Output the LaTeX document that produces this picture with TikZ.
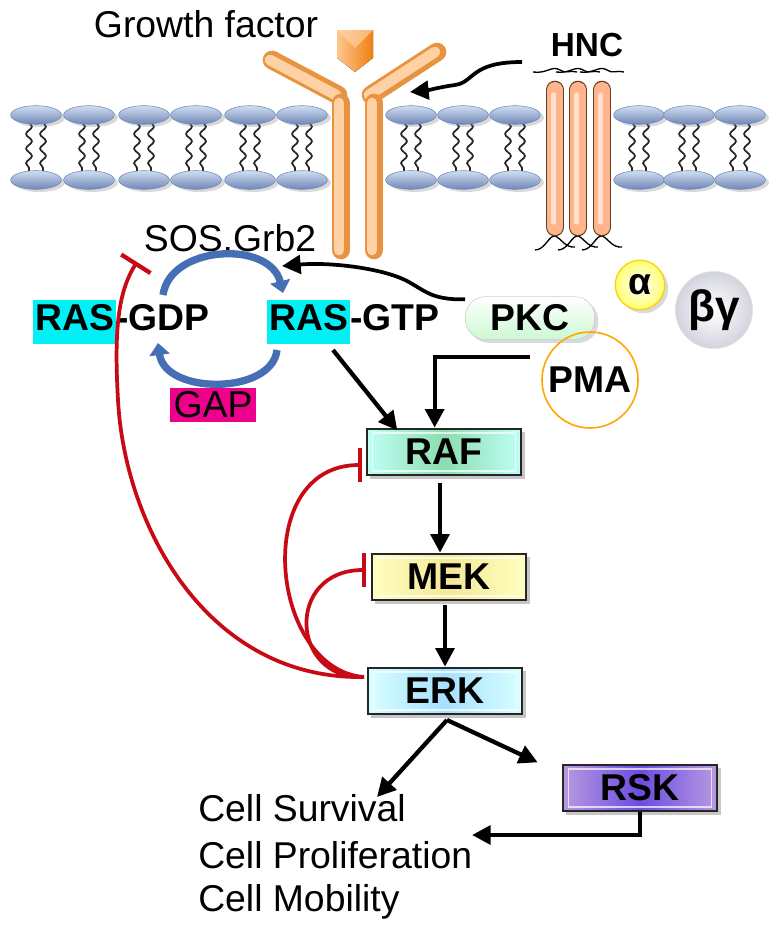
\documentclass[tikz,border=0pt]{standalone}
\usepackage{fontspec}
\setmainfont{Liberation Sans}
\usetikzlibrary{arrows.meta,decorations.pathmorphing,shadows,shapes.geometric}
\definecolor{cycblue}{RGB}{70,110,180}
\definecolor{rascyan}{RGB}{0,240,245}
\definecolor{inhred}{RGB}{200,10,20}
\definecolor{lipA}{RGB}{210,222,240}
\definecolor{lipB}{RGB}{110,135,185}
\begin{document}
\begin{tikzpicture}[x=0.75pt,y=-0.75pt,
 head/.style={ellipse,inner sep=0,draw=lipB,top color=lipA,bottom color=lipB,minimum width=38pt,minimum height=14pt,drop shadow={opacity=0.3,shadow yshift=-2pt}},
 tail/.style={draw=black!85,line width=1.3pt,decorate,decoration={snake,amplitude=2.2pt,segment length=11pt}},
 kin/.style={draw=black!85,line width=1.5pt,minimum width=116pt,minimum height=35pt,font=\bfseries\fontsize{28}{30}\selectfont,drop shadow={opacity=0.45}},
 inner/.style={draw=white,opacity=0.7,line width=1.2pt},
 tip/.style={-{Triangle[length=14pt,width=14pt]}},
 arr/.style={line width=3.2pt,tip},
 inh/.style={draw=inhred,line width=2.8pt,-{Bar[width=26pt,line width=3.2pt]}},
 lbl/.style={font=\bfseries\fontsize{28}{30}\selectfont,inner sep=1pt},
 txt/.style={font=\fontsize{28}{30}\selectfont,anchor=west,inner sep=0}]
\useasboundingbox (0,0) rectangle (777,935);
% membrane
\foreach \i/\x in {1/36,2/89,3/144,4/196,5/250,6/302,7/411,8/463,9/515,10/639,11/689,12/740}{
  \draw[tail] (\x-7,122) -- (\x-7,172);
  \draw[tail] (\x+7,122) -- (\x+7,172);
  \node[head] (ht\i) at (\x,115) {};
  \node[head] (hb\i) at (\x,180) {};
}
% receptor
\tikzset{recA/.style={line width=14pt,line cap=round,draw=orange!55!brown!85},
         recB/.style={line width=8pt,line cap=round,draw=orange!35!white}}
\foreach \a/\b in {{(272,60)}/{(338,95)},{(437,52)}/{(371,95)},{(341,103)}/{(341,250)},{(374,103)}/{(374,250)}}{
  \draw[recA] \a -- \b;
  \draw[recB,xshift=-1.5pt] \a -- \b;
}
\node[draw=none,minimum size=1pt] (gfl) at (355,50) {};
\fill[left color=orange!45!white,right color=orange!75!brown] (337,30) -- (373,30) -- (373,58) -- (355,72) -- (337,58) -- cycle;
\fill[orange!30!white,opacity=0.6] (337,30) -- (355,48) -- (373,30) -- cycle;
\node[font=\fontsize{28}{30}\selectfont] (gf) at (206,24) {Growth factor};
% HNC
\foreach \x in {555,578,602}{
  \draw[line width=1pt] (\x-22,72) .. controls (\x-8,74) and (\x-3,65) .. (\x+5,70) .. controls (\x+10,74) and (\x+15,70) .. (\x+22,72);
  \draw[line width=1pt] (\x-20,250) .. controls (\x-10,250) and (\x-6,235) .. (\x,236) .. controls (\x+6,238) and (\x+10,248) .. (\x+20,247);
  \draw[line width=14pt,line cap=round,draw=brown!50!black] (\x,90) -- (\x,227);
  \draw[line width=12pt,line cap=round,draw=red!30!orange!45!white] (\x,90) -- (\x,227);
  \draw[line width=4pt,line cap=round,draw=red!15!orange!20!white] (\x-1.5,95) -- (\x-1.5,222);
}
\node[lbl,font=\bfseries\fontsize{25}{28}\selectfont] (hnc) at (587,45) {HNC};
\coordinate (hncs) at (522,62);
\coordinate (rect) at (410,92);
\draw[line width=2.8pt,tip] (hncs) .. controls (470,62) and (475,82) .. (455,85) .. controls (440,87) and (430,90) .. (rect);
% RAS cycle
\node[font=\fontsize{28}{30}\selectfont] (sos) at (230,240) {SOS,Grb2};
\node[lbl,anchor=west,inner sep=0] (gdp) at (33,322) {\fboxsep=1.5pt\colorbox{rascyan}{\strut RAS}-GDP};
\node[lbl,anchor=west,inner sep=0] (gtp) at (267,322) {\fboxsep=1.5pt\colorbox{rascyan}{\strut RAS}-GTP};
\tikzset{cyc/.style={line width=5.5pt,draw=cycblue,-{Triangle[length=9pt,width=15pt]}}}
\draw[cyc] (163,295) .. controls (170,245) and (270,240) .. (283,293);
\draw[cyc] (277,350) .. controls (272,395) and (165,395) .. (158,343);
\node[font=\fontsize{28}{30}\selectfont,fill=magenta,inner sep=3pt] (gap) at (213,405) {GAP};
% PKC etc
\node[circle,draw=yellow!70!orange,line width=1pt,inner sep=0,minimum size=37pt,inner color=white,outer color=yellow!55,font=\bfseries\fontsize{28}{30}\selectfont,drop shadow={opacity=0.3}] (alpha) at (640,285) {α};
\node[circle,draw=gray!20,inner sep=0,minimum size=58pt,inner color=white,outer color=blue!15!gray!30,font=\bfseries\fontsize{33}{36}\selectfont] (bg) at (714,310) {βγ};
\node[draw=gray!40,rounded corners=15pt,minimum width=97pt,minimum height=32pt,top color=white,bottom color=teal!25!green!20,font=\bfseries\fontsize{28}{30}\selectfont,drop shadow={opacity=0.3}] (pkc) at (530,318) {PKC};
\draw[line width=2.8pt,tip] ([yshift=14pt]pkc.west) .. controls (430,300) and (425,290) .. (405,280) .. controls (380,268) and (330,262) .. (282,266);
\node[circle,draw=orange!70!yellow,line width=1.2pt,inner sep=0,minimum size=72pt,font=\bfseries\fontsize{28}{30}\selectfont] (pma) at (590,380) {PMA};
% kinases
\node[kin,left color=green!15!cyan!25,right color=green!15!cyan!25,middle color=green!40!teal!45] (raf) at (444,452) {RAF};
\node[kin,left color=yellow!25,right color=yellow!25,middle color=brown!40!yellow!45] (mek) at (449,577) {MEK};
\node[kin,left color=cyan!15,right color=cyan!15,middle color=blue!35!cyan!35] (erk) at (445,691) {ERK};
\node[kin,left color=blue!40!violet!40,right color=blue!40!violet!40,middle color=blue!65!violet!70] (rsk) at (640,788) {RSK};
\foreach \n in {raf,mek,erk,rsk}{
  \draw[inner] ([shift={(5pt,-4pt)}]\n.north west) rectangle ([shift={(-5pt,4pt)}]\n.south east);
}
\coordinate (pmal) at (530,357);
\draw[arr] (pmal) -| ([xshift=-7pt]raf.north);
\coordinate (gtpb) at (333,350);
\draw[arr] (gtpb) -- ([xshift=-35pt,yshift=-2pt]raf.north);
\coordinate (rafo) at (440,483);
\coordinate (meko) at (445,605);
\draw[arr] (rafo) -- (rafo |- mek.north);
\draw[arr] (meko) -- (meko |- erk.north);
\coordinate (peak) at (447,720);
\coordinate (outs) at (377,797);
\draw[arr] (peak) -- (outs);
\draw[arr] (peak) -- ([xshift=-18pt,yshift=1pt]rsk.north west);
\coordinate (outp) at (472,835);
\draw[arr] (rsk.south) |- (outp);
\node[txt] (t1) at (198,808) {Cell Survival};
\node[txt] (t2) at (198,855) {Cell Proliferation};
\node[txt] (t3) at (198,902) {Cell Mobility};
% inhibition
\coordinate (erkl) at (364,677);
\draw[inh] (erkl) .. controls (270,670) and (250,465) .. (362,465);
\draw[inh] (erkl) .. controls (290,680) and (285,570) .. (366,570);
\draw[inh] (erkl) .. controls (210,680) and (125,530) .. (118,400) .. controls (114,330) and (118,292) .. (137,262);
\end{tikzpicture}
\end{document}
